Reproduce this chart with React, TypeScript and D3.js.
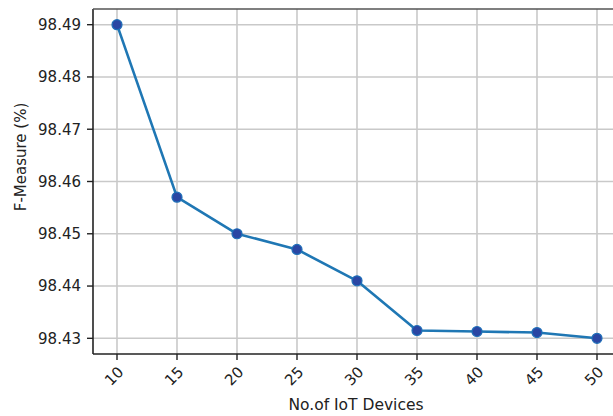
import React from "react";
import * as d3 from "d3";

const devices = [10, 15, 20, 25, 30, 35, 40, 45, 50];
const fMeasure = [98.49, 98.457, 98.45, 98.447, 98.441, 98.4315, 98.4313, 98.4311, 98.43];
const yTicks = [98.43, 98.44, 98.45, 98.46, 98.47, 98.48, 98.49];
const xLabel = "No.of IoT Devices";
const yLabel = "F-Measure (%)";

const W = 613;
const H = 416;
const M = { left: 93, top: 9, right: 621, bottom: 354 };
const FONT = "DejaVu Sans, sans-serif";

export default function App() {
  const x = d3.scaleLinear().domain([8, 52]).range([M.left, M.right]);
  const y = d3.scaleLinear().domain([98.427, 98.493]).range([M.bottom, M.top]);
  const line = d3
    .line<number>()
    .x((_, i) => x(devices[i]))
    .y((d) => y(d));

  return (
    <svg
      width={W}
      height={H}
      style={{ position: "absolute", left: 0, top: 0, background: "#fff" }}
      fontFamily={FONT}
    >
      <defs>
        <clipPath id="plotArea">
          <rect x={M.left} y={M.top} width={M.right - M.left} height={M.bottom - M.top} />
        </clipPath>
      </defs>
      {/* grid */}
      <g stroke="#c9c9c9" strokeWidth={1.6}>
        {devices.map((d) => (
          <line key={"gx" + d} x1={x(d)} x2={x(d)} y1={M.top} y2={M.bottom} />
        ))}
        {yTicks.map((t) => (
          <line key={"gy" + t} x1={M.left} x2={M.right} y1={y(t)} y2={y(t)} />
        ))}
      </g>
      {/* series */}
      <g clipPath="url(#plotArea)">
        <path d={line(fMeasure) || ""} fill="none" stroke="#1f77b4" strokeWidth={2.6} strokeLinejoin="round" />
        {fMeasure.map((v, i) => (
          <circle key={i} cx={x(devices[i])} cy={y(v)} r={5} fill="#2a46a3" stroke="#1f6fb8" strokeWidth={1.2} />
        ))}
      </g>
      {/* spines */}
      <g stroke="#222" strokeWidth={1.6} fill="none">
        <line x1={M.left} x2={M.left} y1={M.top} y2={M.bottom} />
        <line x1={M.left} x2={M.right} y1={M.bottom} y2={M.bottom} />
        <line x1={M.left} x2={M.right} y1={M.top} y2={M.top} stroke="#555" />
      </g>
      {/* y axis */}
      <g>
        {yTicks.map((t) => (
          <g key={"yt" + t}>
            <line x1={M.left - 6} x2={M.left} y1={y(t)} y2={y(t)} stroke="#222" strokeWidth={1.4} />
            <text x={M.left - 12} y={y(t)} dy="0.36em" textAnchor="end" fontSize={15} fill="#222">
              {d3.format(".2f")(t)}
            </text>
          </g>
        ))}
      </g>
      {/* x axis */}
      <g>
        {devices.map((d) => (
          <g key={"xt" + d}>
            <line x1={x(d)} x2={x(d)} y1={M.bottom} y2={M.bottom + 6} stroke="#222" strokeWidth={1.4} />
            <text
              transform={`translate(${x(d) - 3},${M.bottom + 22}) rotate(-45)`}
              textAnchor="middle"
              dy="0.36em"
              fontSize={15}
              fill="#222"
            >
              {d}
            </text>
          </g>
        ))}
      </g>
      <text x={356} y={410} textAnchor="middle" fontSize={15.5} fill="#222">
        {xLabel}
      </text>
      <text
        transform={`translate(26,157) rotate(-90)`}
        textAnchor="middle"
        fontSize={15}
        fill="#222"
      >
        {yLabel}
      </text>
    </svg>
  );
}
